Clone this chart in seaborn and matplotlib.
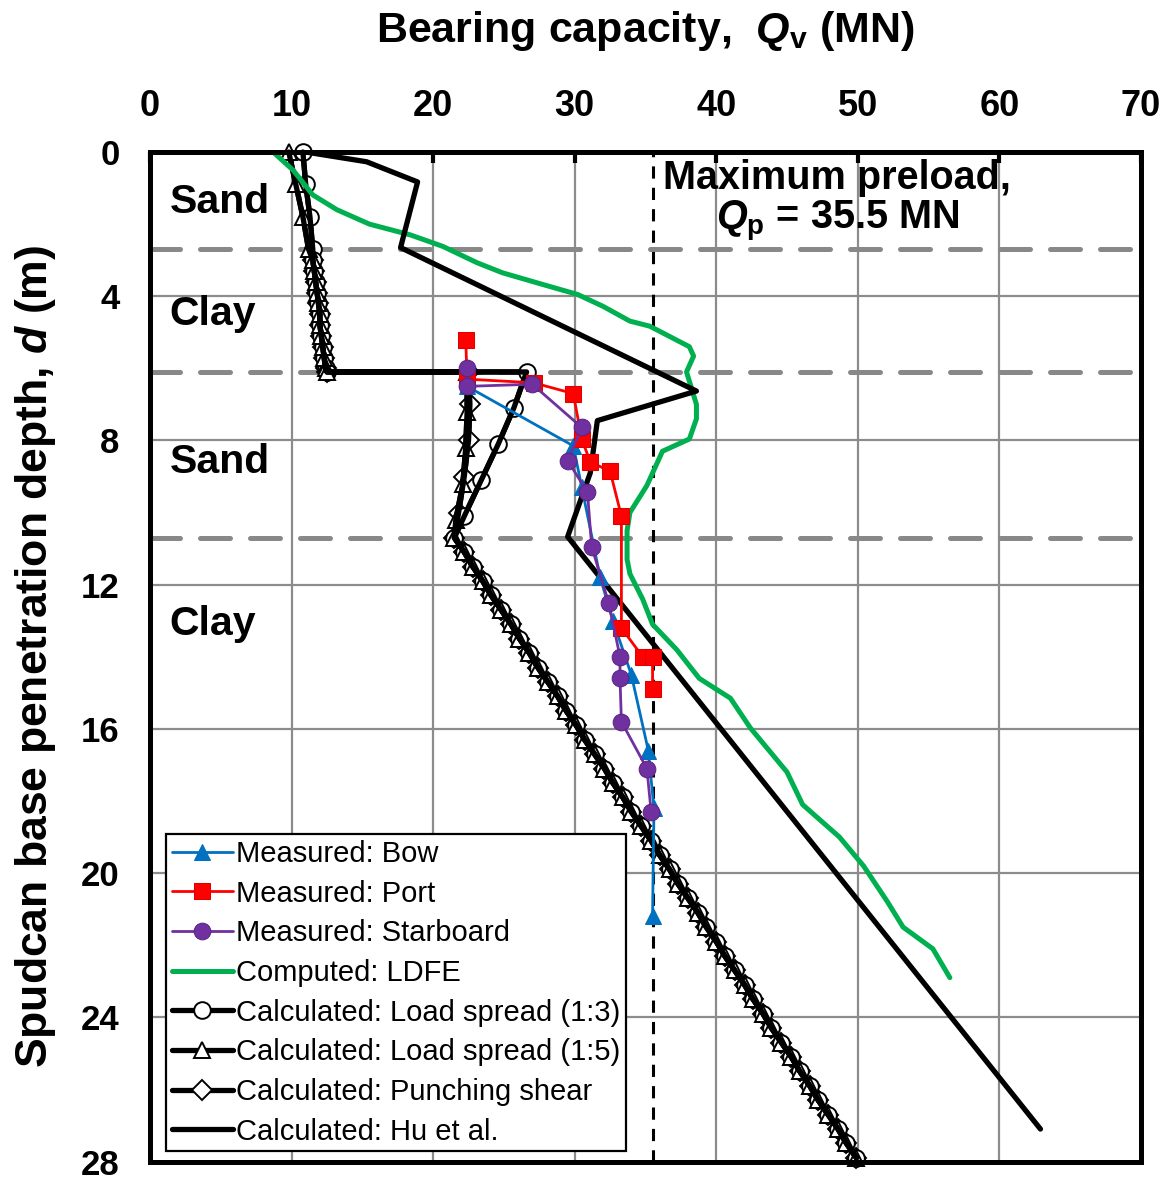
import pandas as pd
import matplotlib
matplotlib.use('Agg')
import matplotlib.pyplot as plt
import seaborn as sns


# measured leg capacities (MN) vs depth (m)
bow_q = [22.4, 29.9, 30.5, 31.8, 32.7, 34.0, 35.2, 35.6, 35.5]
bow_d = [6.5, 8.15, 9.3, 11.8, 13.0, 14.5, 16.6, 18.2, 21.2]

port_q = [22.3, 22.4, 27.1, 29.9, 30.5, 31.1, 32.5, 33.3, 33.3, 34.8, 35.5, 35.5]
port_d = [5.2, 6.3, 6.4, 6.7, 7.96, 8.6, 8.85, 10.1, 13.2, 14.0, 14.0, 14.9]

stbd_q = [22.4, 22.4, 27.0, 30.5, 29.5, 30.9, 31.2, 32.4, 33.2, 33.2, 33.3, 35.1, 35.4]
stbd_d = [6.0, 6.5, 6.44, 7.64, 8.56, 9.43, 10.95, 12.5, 14.0, 14.6, 15.8, 17.1, 18.3]

# LDFE
ldfe_q = [8.7, 10.1, 11.5, 13.2, 15.5, 18.4, 20.7, 23.1, 24.9, 27.8, 30.2, 32.0, 33.9,
          35.3, 38.1, 38.4, 37.9, 38.6, 38.6, 38.1, 36.2, 35.1, 33.9, 33.7, 33.7,
          33.9, 34.8, 35.5, 37.2, 38.8, 41.0, 42.4, 45.0, 46.1, 48.7, 50.4, 52.1,
          53.2, 55.3, 56.5]
ldfe_d = [0.0, 0.5, 1.19, 1.6, 2.0, 2.3, 2.62, 3.07, 3.35, 3.68, 3.95, 4.28, 4.69,
          4.83, 5.4, 5.66, 6.1, 7.0, 7.4, 7.96, 8.3, 9.25, 10.0, 10.5, 11.3,
          11.7, 12.4, 13.1, 13.8, 14.6, 15.15, 15.97, 17.2, 18.1, 19.0, 19.8, 20.8,
          21.5, 22.1, 22.9]

# Hu et al.
hu_q = [11.0, 15.3, 18.9, 17.7, 38.6, 31.6, 31.1, 29.5, 62.9]
hu_d = [0.0, 0.27, 0.83, 2.65, 6.63, 7.45, 8.9, 10.67, 27.1]

# load spread / punching shear: layer by layer
ls13_sand1_q = [10.8, 11.0, 11.3, 11.5]
ls15_sand1_q = [9.8, 10.3, 10.8, 11.2]
sand1_d = [0.0, 0.9, 1.8, 2.7]

clay1_q = [11.5, 11.6, 11.7, 11.8, 11.9, 12.0, 12.0, 12.1, 12.2, 12.3, 12.4, 12.5]
clay1_d = [3.0, 3.3, 3.6, 3.9, 4.2, 4.5, 4.8, 5.1, 5.4, 5.7, 6.0, 6.1]

ls13_sand2_q = [26.6, 25.7, 24.6, 23.4, 22.2]
ls13_sand2_d = [6.1, 7.1, 8.1, 9.1, 10.1]
ls15_sand2_q = [22.4, 22.4, 22.3, 22.1, 21.6]
ls15_sand2_d = [6.1, 7.2, 8.2, 9.2, 10.2]
ps_sand2_q = [22.5, 22.6, 22.5, 22.2, 21.8]
ps_sand2_d = [6.1, 7.0, 8.0, 9.0, 10.0]

clay2_q = [21.5, 22.2, 22.8, 23.5, 24.1, 24.8, 25.5, 26.1, 26.8, 27.4, 28.1, 28.8,
           29.4, 30.1, 30.7, 31.4, 32.1, 32.7, 33.4, 34.0, 34.7, 35.4, 36.0, 36.7,
           37.3, 38.0, 38.7, 39.3, 40.0, 40.6, 41.3, 42.0, 42.6, 43.3, 43.9, 44.6,
           45.3, 45.9, 46.6, 47.2, 47.9, 48.6, 49.2, 49.9]
clay2_d = [10.7, 11.1, 11.5, 11.9, 12.3, 12.7, 13.1, 13.5, 13.9, 14.3, 14.7, 15.1,
           15.5, 15.9, 16.3, 16.7, 17.1, 17.5, 17.9, 18.3, 18.7, 19.1, 19.5, 19.9,
           20.3, 20.7, 21.1, 21.5, 21.9, 22.3, 22.7, 23.1, 23.5, 23.9, 24.3, 24.7,
           25.1, 25.5, 25.9, 26.3, 26.7, 27.1, 27.5, 27.9]

layer_bounds = [2.7, 6.1, 10.7]
preload = 35.5
soil_labels = [('Sand', 1.4), ('Clay', 4.5), ('Sand', 8.6), ('Clay', 13.1)]

FONT = 'Liberation Sans'


def init_plotting():
    sns.set_style('white')
    plt.rcParams['font.family'] = [FONT, 'DejaVu Sans']
    plt.rcParams['font.weight'] = 'bold'
    for key in ['text.color', 'axes.labelcolor', 'xtick.color', 'ytick.color']:
        plt.rcParams[key] = 'black'
    plt.rcParams['mathtext.fontset'] = 'custom'
    plt.rcParams['mathtext.rm'] = FONT + ':bold'
    plt.rcParams['mathtext.it'] = FONT + ':italic:bold'
    plt.rcParams['mathtext.bf'] = FONT + ':bold'


def draw(ax, q, d, label=None, **kw):
    df = pd.DataFrame({'q': q, 'd': d})
    sns.lineplot(data=df, x='q', y='d', sort=False, estimator=None,
                 ax=ax, label=label, legend=False, **kw)


init_plotting()
fig = plt.figure(figsize=(11.72, 11.84), dpi=100)
ax = fig.add_axes([0.128, 0.019, 0.8455, 0.8526])

ax.set_xticks(range(0, 71, 10))
ax.set_yticks(range(0, 29, 4))
ax.grid(True, color='#8c8c8c', lw=1.6)
for y in layer_bounds:
    ax.axhline(y, color='#888888', lw=3.6, ls=(0, (6, 4)), dash_capstyle='round', zorder=1.5)
ax.axvline(preload, color='k', lw=2.2, ls=(0, (4, 3)), zorder=1.6)

open_mk = dict(color='k', lw=3.8, markersize=12, markerfacecolor='white',
               markeredgecolor='black', markeredgewidth=1.4, clip_on=False)

ps_q = clay1_q + ps_sand2_q + clay2_q
ps_d = clay1_d + ps_sand2_d + clay2_d
ls13_q = ls13_sand1_q + clay1_q + ls13_sand2_q + clay2_q
ls13_d = sand1_d + clay1_d + ls13_sand2_d + clay2_d
ls15_q = ls15_sand1_q + clay1_q + ls15_sand2_q + clay2_q
ls15_d = sand1_d + clay1_d + ls15_sand2_d + clay2_d

draw(ax, ps_q, ps_d, 'Calculated: Punching shear', marker='D', **dict(open_mk, markersize=10))
draw(ax, ls13_q, ls13_d, 'Calculated: Load spread (1:3)', marker='o', **open_mk)
draw(ax, ls15_q, ls15_d, 'Calculated: Load spread (1:5)', marker='^', **open_mk)
# solid curves drawn again on top of the marker chain
for q, d in [(ps_q, ps_d), (ls13_q, ls13_d), (ls15_q, ls15_d)]:
    draw(ax, q, d, color='k', lw=3.8, clip_on=False)

draw(ax, ldfe_q, ldfe_d, 'Computed: LDFE', color='#00B050', lw=3.6)
draw(ax, hu_q, hu_d, 'Calculated: Hu et al.', color='k', lw=3.8)

draw(ax, bow_q, bow_d, 'Measured: Bow', color='#0070C0', lw=2.0,
     marker='^', markersize=12, markeredgecolor='#0070C0')
draw(ax, port_q, port_d, 'Measured: Port', color='#FF0000', lw=2.0,
     marker='s', markersize=12, markeredgecolor='#E00000')
draw(ax, stbd_q, stbd_d, 'Measured: Starboard', color='#7030A0', lw=2.0,
     marker='o', markersize=12, markeredgecolor='#5a2585')

ax.set_xlim(0, 70)
ax.set_ylim(28, 0)

ax.xaxis.tick_top()
ax.xaxis.set_label_position('top')
ax.tick_params(axis='both', direction='in', length=8, width=3, labelsize=26,
               top=True, bottom=False, labeltop=True, labelbottom=False)
ax.tick_params(axis='x', pad=20)
ax.tick_params(axis='y', pad=22, labelsize=25)
for side in ax.spines.values():
    side.set_linewidth(3.6)
    side.set_color('k')

ax.set_xlabel('Bearing capacity,  $Q_\\mathrm{v}$ (MN)', fontsize=31, fontweight='bold', labelpad=34)
ax.set_ylabel('Spudcan base penetration depth, $d$ (m)', fontsize=32, fontweight='bold', labelpad=16)

for name, d in soil_labels:
    ax.text(1.4, d, name, fontsize=29.5, fontweight='bold', ha='left', va='center')
ax.text(48.5, 0.72, 'Maximum preload,', fontsize=28.5, fontweight='bold', ha='center', va='center')
ax.text(48.6, 1.9, '$Q_\\mathrm{p}$ = 35.5 MN', fontsize=28.5, fontweight='bold', ha='center', va='center')

order = ['Measured: Bow', 'Measured: Port', 'Measured: Starboard', 'Computed: LDFE',
         'Calculated: Load spread (1:3)', 'Calculated: Load spread (1:5)',
         'Calculated: Punching shear', 'Calculated: Hu et al.']
handles, labels = ax.get_legend_handles_labels()
lookup = dict(zip(labels, handles))
leg = ax.legend([lookup[k] for k in order], order, loc='lower left',
                bbox_to_anchor=(0.016, 0.01), fontsize=21, frameon=True, fancybox=False,
                framealpha=1, edgecolor='k', handlelength=2.1, handletextpad=0.1,
                borderpad=0.2, labelspacing=0.4, borderaxespad=0)
leg.get_frame().set_linewidth(1.6)
for t in leg.get_texts():
    t.set_fontweight('normal')

fig.savefig('out.png', dpi=100)
